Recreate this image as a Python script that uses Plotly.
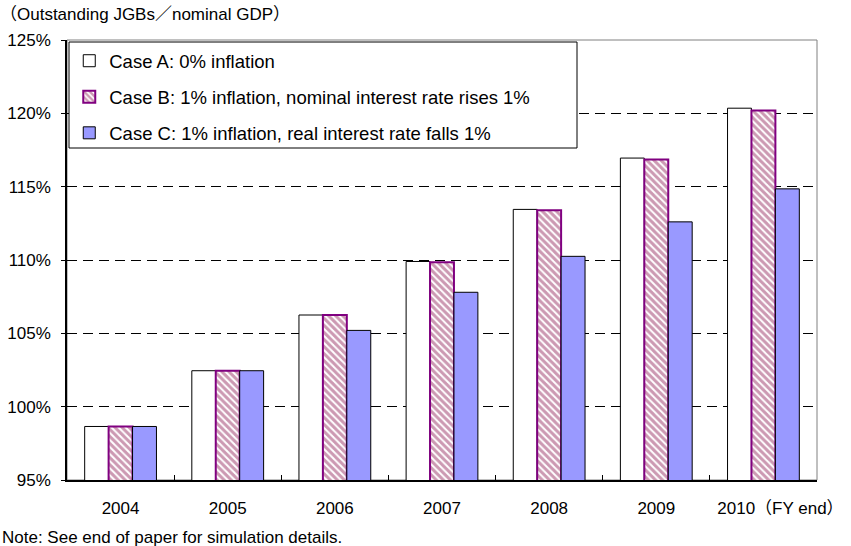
import plotly.graph_objects as go

years = ["2004", "2005", "2006", "2007", "2008", "2009", "2010"]
year_labels = ["2004", "2005", "2006", "2007", "2008", "2009", "\u3000\u30002010\uff08FY end\uff09"]
case_a = [98.65, 102.45, 106.25, 109.9, 113.45, 116.95, 120.35]
case_b = [98.65, 102.45, 106.25, 109.85, 113.4, 116.85, 120.2]
case_c = [98.65, 102.45, 105.2, 107.8, 110.25, 112.6, 114.85]
series_names = [
    "Case A: 0% inflation",
    "Case B: 1% inflation, nominal interest rate rises 1%",
    "Case C: 1% inflation, real interest rate falls 1%",
]
y_ticks = [95, 100, 105, 110, 115, 120, 125]
y_tick_labels = [f"{v}%" for v in y_ticks]
title_text = "\uff08Outstanding JGBs\uff0fnominal GDP\uff09"
note_text = "Note: See end of paper for simulation details."

FONT = "Liberation Sans, Arial, Noto Sans CJK JP, sans-serif"

fig = go.Figure()
fig.add_trace(go.Bar(
    x=years, y=case_a, name=series_names[0], legendgroup="a",
    marker=dict(color="white", line=dict(color="black", width=1)),
))
fig.add_trace(go.Bar(
    x=years, y=case_b, name=series_names[1], legendgroup="b",
    marker=dict(color="white", line=dict(color="#800080", width=2),
                pattern=dict(shape="\\", fgcolor="#993366", bgcolor="white",
                             size=5, solidity=0.6)),
))
fig.add_trace(go.Bar(
    x=years, y=case_c, name=series_names[2], legendgroup="c",
    marker=dict(color="#9999FF", line=dict(color="black", width=1)),
))

fig.update_layout(
    width=851, height=546,
    margin=dict(l=67, r=34, t=40, b=66, autoexpand=False),
    paper_bgcolor="white", plot_bgcolor="white",
    barmode="group", bargap=0.33, bargroupgap=0,
    font=dict(family=FONT, size=17, color="black"),
    title=dict(text=title_text, x=0, xref="container", xanchor="left",
               y=1 - 14 / 546, yref="container", yanchor="middle",
               font=dict(family=FONT, size=17, color="black")),
    showlegend=True,
    legend=dict(x=0.003, y=0.995, xanchor="left", yanchor="top",
                bgcolor="rgba(0,0,0,0)", borderwidth=0,
                traceorder="grouped", tracegroupgap=9,
                font=dict(family=FONT, size=18.5, color="black"),
                itemwidth=30),
    xaxis=dict(type="category", tickvals=years, ticktext=year_labels,
               tickangle=0, automargin=False,
               showline=True, linecolor="black", linewidth=1.5,
               ticks="inside", tickson="boundaries", ticklen=5, tickcolor="black",
               showgrid=False, ticklabelstandoff=12,
               tickfont=dict(family=FONT, size=17, color="black")),
    yaxis=dict(range=[95, 125], tickvals=y_ticks, ticktext=y_tick_labels,
               automargin=False,
               showline=True, linecolor="black", linewidth=1.5,
               ticks="outside", ticklen=4, tickcolor="black",
               showgrid=True, gridcolor="black", gridwidth=1, griddash="10px,6px",
               zeroline=False, ticklabelstandoff=7,
               tickfont=dict(family=FONT, size=17, color="black")),
    shapes=[
        dict(type="rect", xref="paper", yref="paper", x0=0, x1=1, y0=0, y1=1,
             line=dict(color="#808080", width=1), fillcolor="rgba(0,0,0,0)", layer="below"),
        dict(type="rect", xref="paper", yref="paper",
             x0=2 / 750, x1=510 / 750, y0=1 - 108 / 440, y1=1 - 2 / 440,
             line=dict(color="black", width=1), fillcolor="white", layer="above"),
    ],
    annotations=[
        dict(text=note_text, xref="paper", yref="paper", x=-67 / 750, y=-(537 - 480) / 440,
             xanchor="left", yanchor="middle", showarrow=False,
             font=dict(family=FONT, size=17, color="black")),
    ],
)

fig.write_html("out.html")
